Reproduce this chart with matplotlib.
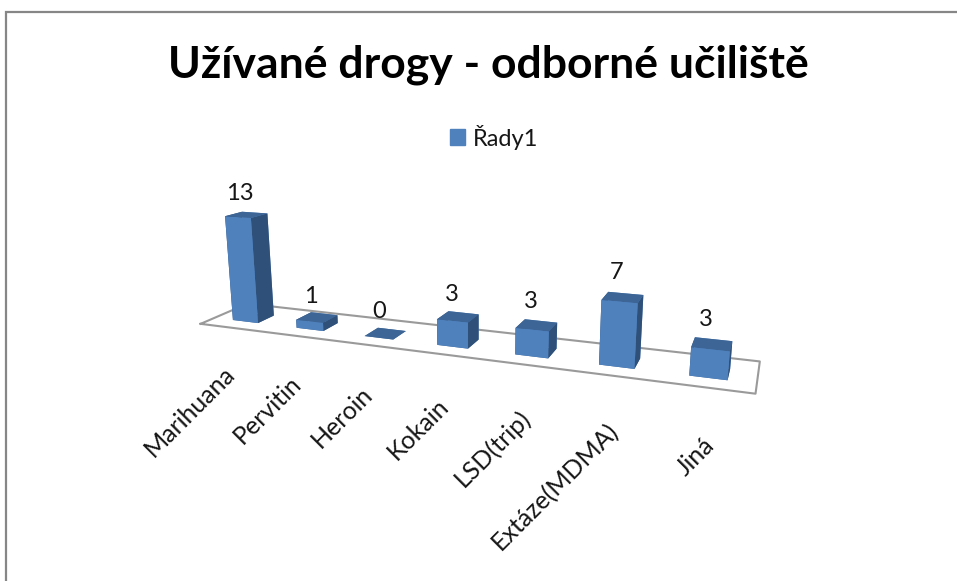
import numpy as np
import matplotlib
matplotlib.use("Agg")
import matplotlib.pyplot as plt
from matplotlib.patches import Patch, Rectangle
from mpl_toolkits.mplot3d import proj3d

plt.rcParams['font.family'] = ['Lato', 'DejaVu Sans']

title = "Užívané drogy - odborné učiliště"
series_name = "Řady1"
categories = ["Marihuana", "Pervitin", "Heroin", "Kokain", "LSD(trip)", "Extáze(MDMA)", "Jiná"]
values = [13, 1, 0, 3, 3, 7, 3]

# camera fitted against the picture
ELEV, AZIM, ROLL = 14.32, -68.428, 0.349
FOCAL = 0.2683
BOX = (1, 0.1499, 0.2185)
BAR_W, Y0, Y1 = 0.402, 0.284, 0.639
S, TX, TY = 3120.2, 459.0, 281.5

FRONT, TOP, SIDE = "#4f81bd", "#3d6696", "#2f5079"
TEXT_COLOR = "#161616"
W_PX, H_PX = 957, 581

fig = plt.figure(figsize=(W_PX / 100, H_PX / 100), dpi=100)
ax = fig.add_axes([0, 0, 1, 1], projection="3d")
ax.computed_zorder = False
ax.set_axis_off()
ax.patch.set_alpha(0)
n = len(values)
ax.set_xlim(0, n)
ax.set_ylim(0, 1)
ax.set_zlim(0, 14)
ax.view_init(elev=ELEV, azim=AZIM, roll=ROLL)
ax.set_proj_type("persp", focal_length=FOCAL)
ax.set_box_aspect(BOX)

vl = ax.viewLim
w = S * vl.width
ax.set_position([(TX + vl.x0 * S) / W_PX, (H_PX - TY + vl.y0 * S) / H_PX, w / W_PX, w / H_PX])
M = ax.get_proj()


def label(x, y, z, s, size=17, **kw):
    # plain 2D text at a projected point, Text3D would ignore the rotation
    px, py, _ = proj3d.proj_transform(x, y, z, M)
    ax.text2D(px, py, s, transform=ax.transData, color=TEXT_COLOR, fontsize=size, clip_on=False, zorder=20, **kw)


# floor
ax.plot([0, n, n, 0, 0], [0, 0, 1, 1, 0], [0, 0, 0, 0, 0], color="#9a9a9a", lw=1.5, zorder=1, clip_on=False)

# faces: -z, +z, -y, +y, -x, +x
face_colors = [TOP, TOP, FRONT, FRONT, SIDE, SIDE]
for i, v in enumerate(values):
    bars = ax.bar3d(i + .5 - BAR_W / 2, Y0, 0, BAR_W, Y1 - Y0, v, color=face_colors, shade=False,
                    zorder=2 + i, edgecolor="none")
    bars.set_clip_on(False)
    label(i + .42, (Y0 + Y1) / 2, v + 2.55, str(v), ha="center", va="center")
    label(i * 1.027 + .43, 0, -5.5, categories[i], size=18, rotation=45, rotation_mode="anchor", ha="right", va="center")

fig.text(488.5 / W_PX, 1 - 65 / H_PX, title, ha="center", va="center", fontsize=32, fontweight="bold", color="black")

fig.legend(handles=[Patch(color=FRONT, label=series_name)], loc="center", bbox_to_anchor=(494 / W_PX, 1 - 137 / H_PX),
           frameon=False, fontsize=17, handlelength=0.63, handleheight=0.63, handletextpad=0.35, labelcolor=TEXT_COLOR)

# chart frame, only top and left are in the crop
fig.add_artist(Rectangle((6 / W_PX, -0.1), 1.1, 1.1 - 12.5 / H_PX, transform=fig.transFigure, fill=False,
                         edgecolor="#868686", lw=1.6))

fig.savefig("out.png", dpi=100)
